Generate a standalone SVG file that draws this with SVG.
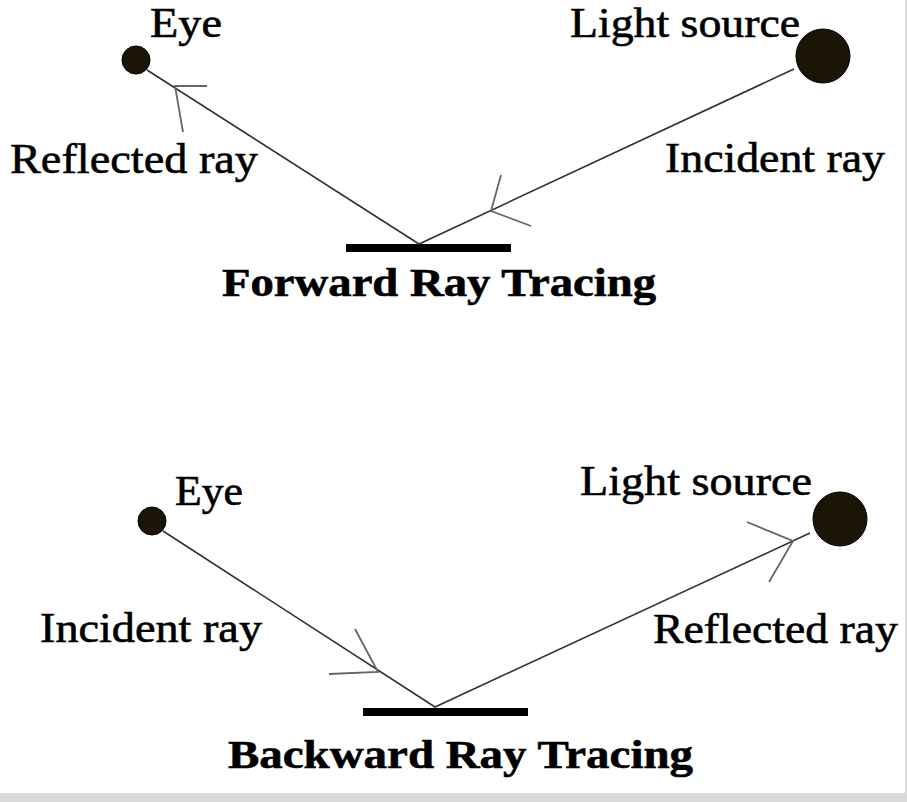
<svg xmlns="http://www.w3.org/2000/svg" width="907" height="802" viewBox="0 0 907 802">
<style>
.t{font-family:"Liberation Serif","Times New Roman",serif;font-size:42px;fill:#000;stroke:#000;stroke-width:0.6}
.b{font-family:"Liberation Serif","Times New Roman",serif;font-size:41px;font-weight:bold;fill:#000;stroke:#000;stroke-width:0.6}
.ray{stroke:#333;stroke-width:1.6;fill:none}
.wing{stroke:#666;stroke-width:1.8;fill:none}
.dot{fill:#1a1505;stroke:#000;stroke-width:1}
.bar{fill:#000}
</style>
<rect width="907" height="802" fill="#fff"/>
<rect x="0" y="793" width="907" height="9" fill="#d9d9d9"/>
<rect x="905" y="0" width="2" height="802" fill="#d9d9d9"/>
<g id="forward">
<g id="eye1"><circle class="dot" cx="136" cy="60" r="14"/><text class="t" x="150" y="37" font-size="40" textLength="72" lengthAdjust="spacingAndGlyphs">Eye</text></g>
<g id="light1"><circle class="dot" cx="823" cy="56" r="27"/><text class="t" x="570" y="37" font-size="40" textLength="230" lengthAdjust="spacingAndGlyphs">Light source</text></g>
<g id="mirror1"><rect class="bar" x="346" y="244" width="165" height="8"/></g>
<g id="labels1">
<text class="t" x="10" y="173" textLength="248" lengthAdjust="spacingAndGlyphs">Reflected ray</text>
<text class="t" x="665" y="172" textLength="220" lengthAdjust="spacingAndGlyphs">Incident ray</text>
<text class="b" x="222" y="296" textLength="434" lengthAdjust="spacingAndGlyphs">Forward Ray Tracing</text>
</g>
</g>
<g id="backward">
<g id="eye2"><circle class="dot" cx="152" cy="521" r="14"/><text class="t" x="175" y="505" textLength="68" lengthAdjust="spacingAndGlyphs">Eye</text></g>
<g id="light2"><circle class="dot" cx="840" cy="519" r="27"/><text class="t" x="580" y="495" textLength="232" lengthAdjust="spacingAndGlyphs">Light source</text></g>
<g id="mirror2"><rect class="bar" x="363" y="708" width="165" height="8"/></g>
<g id="labels2">
<text class="t" x="40" y="642" textLength="222" lengthAdjust="spacingAndGlyphs">Incident ray</text>
<text class="t" x="653" y="643" textLength="245" lengthAdjust="spacingAndGlyphs">Reflected ray</text>
<text class="b" x="228" y="768" textLength="465" lengthAdjust="spacingAndGlyphs">Backward Ray Tracing</text>
</g>
</g>
<g id="connectors">
<polyline class="ray" points="147,70 419,244 794,69"/>
<polyline class="wing" points="207,86 175,86 183,132"/>
<polyline class="wing" points="501,175 491,211 531,226"/>
<polyline class="ray" points="163,531 435,707 810,533"/>
<polyline class="wing" points="355,629 378,672 329,674"/>
<polyline class="wing" points="747,522 793,541 769,582"/>
</g>
</svg>
